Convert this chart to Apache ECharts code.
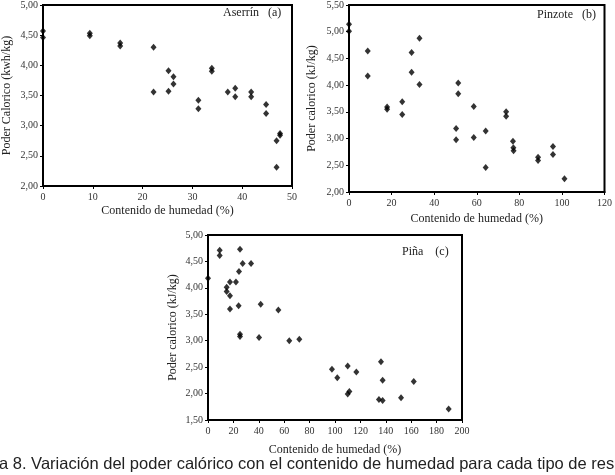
<!DOCTYPE html>
<html>
<head>
<meta charset="utf-8">
<script src="https://cdn.jsdelivr.net/npm/echarts@6/dist/echarts.min.js"></script>
<style>
  html, body { margin: 0; padding: 0; background: #fff; }
  #main { width: 615px; height: 475px; }
</style>
</head>
<body>
<div id="main"></div>
<script>
// (a) Aserrín
var aserrinHumedad = [0, 0, 9.4, 9.4, 15.5, 15.5, 22.2, 22.2, 25.2, 25.2, 26.2, 26.2, 31.2, 31.2, 33.9, 33.9, 37.1, 38.6, 38.6, 41.8, 41.8, 44.8, 44.8, 46.9, 46.9, 47.6, 47.6];
var aserrinPoder = [4.57, 4.46, 4.53, 4.49, 4.37, 4.32, 4.30, 3.56, 3.91, 3.57, 3.81, 3.69, 3.42, 3.28, 3.95, 3.90, 3.56, 3.62, 3.48, 3.56, 3.48, 3.35, 3.20, 2.75, 2.31, 2.87, 2.84];

// (b) Pinzote
var pinzoteHumedad = [0, 0, 8.8, 8.8, 17.9, 17.9, 25, 25, 29.4, 29.4, 33.1, 33.1, 51.3, 51.3, 50.3, 50.3, 58.6, 58.6, 64.2, 64.2, 73.8, 73.8, 77.0, 77.2, 77.3, 88.8, 88.8, 95.8, 95.8, 101.2];
var pinzotePoder = [5.14, 5.01, 4.64, 4.17, 3.59, 3.55, 3.69, 3.45, 4.61, 4.24, 4.88, 4.01, 4.04, 3.84, 3.19, 2.98, 3.60, 3.02, 3.14, 2.46, 3.50, 3.42, 2.95, 2.83, 2.77, 2.65, 2.59, 2.85, 2.70, 2.25];

// (c) Piña
var pinaHumedad = [0, 9.2, 9.2, 25.2, 27.3, 33.9, 24.4, 17.3, 22.0, 14.7, 14.7, 17.3, 17.3, 24.1, 41.5, 55.4, 25.2, 25.2, 40.2, 64.0, 71.9, 97.6, 101.8, 110, 116.8, 110, 111.3, 136.2, 137.5, 134.6, 137.5, 152, 162, 189.5];
var pinaPoder = [4.18, 4.71, 4.61, 4.73, 4.46, 4.46, 4.31, 4.11, 4.11, 4.01, 3.93, 3.85, 3.60, 3.66, 3.69, 3.58, 3.12, 3.08, 3.06, 3.00, 3.03, 2.46, 2.30, 2.52, 2.41, 1.99, 2.04, 2.60, 2.25, 1.89, 1.87, 1.92, 2.23, 1.71];

var serif = '"Liberation Serif", "DejaVu Serif", serif';

function pairs(xs, ys) {
  return xs.map(function (x, i) { return [x, ys[i]]; });
}

function comma(v) {
  return v.toFixed(2).replace('.', ',');
}

function makeX(idx, max, interval, gap) {
  return {
    gridIndex: idx,
    type: 'value',
    min: 0,
    max: max,
    interval: interval,
    name: 'Contenido de humedad (%)',
    nameLocation: 'middle',
    nameGap: gap,
    nameTextStyle: { fontFamily: serif, fontSize: 12, color: '#222' },
    axisLine: { lineStyle: { color: '#000', width: 2 } },
    axisTick: { show: true, inside: false, length: 3, lineStyle: { color: '#000' } },
    axisLabel: { fontFamily: serif, fontSize: 10, color: '#333', margin: 6 },
    splitLine: { show: false }
  };
}

function makeY(idx, min, max, label, gap) {
  return {
    gridIndex: idx,
    type: 'value',
    min: min,
    max: max,
    interval: 0.5,
    name: label,
    nameLocation: 'middle',
    nameGap: gap,
    nameTextStyle: { fontFamily: serif, fontSize: 12, color: '#222' },
    axisLine: { show: true, lineStyle: { color: '#000', width: 2 } },
    axisTick: { show: true, inside: false, length: 3, lineStyle: { color: '#000' } },
    axisLabel: { fontFamily: serif, fontSize: 10, color: '#333', margin: 5, formatter: comma },
    splitLine: { show: false }
  };
}

function makeSeries(idx, data) {
  return {
    type: 'scatter',
    xAxisIndex: idx,
    yAxisIndex: idx,
    symbol: 'diamond',
    symbolSize: [6, 7],
    itemStyle: { color: '#000' },
    data: data
  };
}

var chart = echarts.init(document.getElementById('main'), null, { renderer: 'canvas' });

var gridStyle = { show: true, borderColor: '#000', borderWidth: 2, backgroundColor: 'transparent' };

var option = {
  animation: false,
  backgroundColor: '#fff',
  grid: [
    Object.assign({ left: 38, top: 0, width: 254, height: 186 }, gridStyle),
    Object.assign({ left: 349, top: 0, width: 256, height: 192 }, gridStyle),
    Object.assign({ left: 208, top: 235, width: 254, height: 185 }, gridStyle)
  ],
  xAxis: [
    makeX(0, 50, 10, 19),
    makeX(1, 120, 20, 21),
    makeX(2, 200, 20, 24)
  ],
  yAxis: [
    makeY(0, 2, 5, 'Poder Calorico (kwh/kg)', 30),
    makeY(1, 2, 5.5, 'Poder calorico (kJ/kg)', 31),
    makeY(2, 1.5, 5, 'Poder calorico (kJ/kg)', 29)
  ],
  series: [
    makeSeries(0, pairs(aserrinHumedad, aserrinPoder)),
    makeSeries(1, pairs(pinzoteHumedad, pinzotePoder)),
    makeSeries(2, pairs(pinaHumedad, pinaPoder))
  ],
  graphic: [
    { type: 'text', left: 223, top: 7, style: { text: 'Aserrín   (a)', font: '12px ' + serif, fill: '#222' } },
    { type: 'text', left: 537, top: 9, style: { text: 'Pinzote   (b)', font: '12px ' + serif, fill: '#222' } },
    { type: 'text', left: 402, top: 246, style: { text: 'Piña    (c)', font: '12px ' + serif, fill: '#222' } },
    { type: 'text', x: -1, y: 456, style: { text: 'a 8. Variación del poder calórico con el contenido de humedad para cada tipo de res', font: '16.5px "Liberation Sans", Arial, sans-serif', fill: '#222' } }
  ]
};

chart.setOption(option);
</script>
</body>
</html>
